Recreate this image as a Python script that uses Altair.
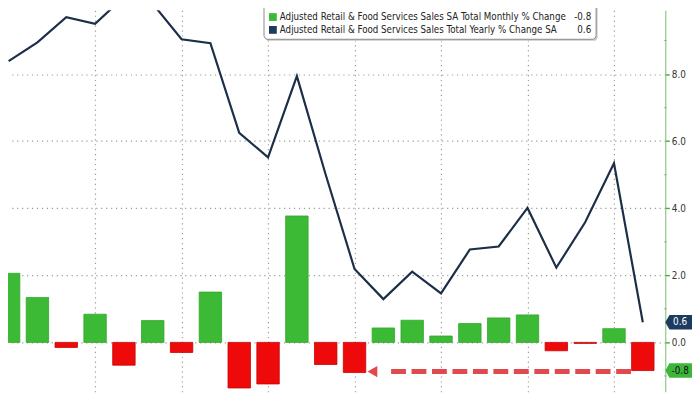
import altair as alt
import pandas as pd

# ---- data ----
month_index = list(range(23))
monthly = [2.06, 1.34, -0.15, 0.84, -0.68, 0.65, -0.30, 1.50, -1.36, -1.24, 3.77,
           -0.66, -0.90, 0.43, 0.66, 0.19, 0.56, 0.73, 0.82, -0.25, -0.03, 0.41, -0.84]
yearly = [8.39, 8.95, 9.70, 9.50, 10.3, 10.1, 9.04, 8.92, 6.25, 5.52, 7.94,
          5.0, 2.19, 1.29, 2.11, 1.46, 2.77, 2.86, 4.01, 2.23, 3.58, 5.34, 0.6]
grid_months = [3, 6, 9, 12, 15, 18, 21]
major_ticks = [0, 2, 4, 6, 8, 10]
minor_ticks = [-1, 1, 3, 5, 7, 9]
legend_labels = [
    "Adjusted Retail & Food Services Sales SA Total Monthly % Change",
    "Adjusted Retail & Food Services Sales Total Yearly % Change SA",
]
legend_values = [f"{monthly[-1]:.1f}", f"{yearly[-1]:.1f}"]
arrow_start = [21.59]
arrow_end = [13.23]
arrow_head = [12.62]
arrow_level = [-0.87]

GREEN = "#3cba35"
RED = "#ee0a0a"
NAVY = "#1c2e48"
TAGNAVY = "#1d3b60"
FONT = "DejaVu Sans Condensed, Liberation Sans, sans-serif"

W, H = 665, 386
xs = alt.Scale(domain=[0.1503, 22.609], nice=False, zero=False)
ys = alt.Scale(domain=[-1.473, 9.906], nice=False, zero=False)

df = pd.DataFrame({"i": month_index, "m": monthly, "y": yearly})
base = alt.Chart(df)

bars = base.mark_bar(size=22.7, clip=True, strokeWidth=0.8).encode(
    x=alt.X("i:Q", scale=xs, title=None,
            axis=alt.Axis(values=grid_months, labels=False, ticks=False, domain=False,
                          grid=True, gridColor="#9a9a9a", gridDash=[1.2, 3.8], gridWidth=1.2)),
    y=alt.Y("m:Q", scale=ys, title=None,
            axis=alt.Axis(orient="right", values=major_ticks, format=".1f",
                          labelFont=FONT, labelFontSize=10, labelColor="#333333", labelPadding=2,
                          labelOverlap=False,
                          domainColor="#74bd6e", domainWidth=1,
                          tickColor="#3fa83a", tickSize=4, tickWidth=1.4,
                          grid=True, gridColor="#9a9a9a", gridDash=[1.2, 3.8], gridWidth=1.2)),
    y2=alt.datum(0),
    color=alt.condition("datum.m >= 0", alt.value(GREEN), alt.value(RED)),
    stroke=alt.condition("datum.m >= 0", alt.value("#33a52d"), alt.value("#c80000")),
)

line = base.mark_line(color=NAVY, strokeWidth=2.2, clip=True).encode(
    x=alt.X("i:Q", scale=xs), y=alt.Y("y:Q", scale=ys)
)

minor_df = pd.DataFrame({"t": minor_ticks})
minor = alt.Chart(minor_df).mark_rule(color="#aaaaaa", strokeWidth=1).encode(
    x=alt.value(W - 1.5), x2=alt.value(W + 1.5), y=alt.Y("t:Q", scale=ys)
)

arrow_df = pd.DataFrame({"a": arrow_start, "b": arrow_end, "h": arrow_head, "v": arrow_level})
arrow = alt.Chart(arrow_df).mark_rule(color="#e04a4f", strokeWidth=5, strokeDash=[15, 5.7]).encode(
    x=alt.X("a:Q", scale=xs), x2="b:Q", y=alt.Y("v:Q", scale=ys)
)
head = alt.Chart(arrow_df).mark_point(shape="triangle-left", filled=True, size=130,
                                      color="#e04a4f", opacity=1).encode(
    x=alt.X("h:Q", scale=xs), y=alt.Y("v:Q", scale=ys)
)

tag_df = pd.DataFrame({
    "v": [yearly[-1], monthly[-1]],
    "label": [f"{yearly[-1]:.1f}", f"{monthly[-1]:.1f}"],
    "fill": [TAGNAVY, "#3db43a"],
    "tc": ["#ffffff", "#111111"],
})
tag_path = "M0,0L0.3,-0.525L2.2,-0.525L2.2,0.525L0.3,0.525Z"
tags = alt.Chart(tag_df).mark_point(shape=tag_path, filled=True, size=784, opacity=1,
                                    strokeWidth=0).encode(
    x=alt.value(W), y=alt.Y("v:Q", scale=ys), fill=alt.Fill("fill:N", scale=None)
)
tag_text = alt.Chart(tag_df).mark_text(font=FONT, fontSize=10, align="center",
                                       baseline="middle").encode(
    x=alt.value(W + 15), y=alt.Y("v:Q", scale=ys), text="label:N",
    color=alt.Color("tc:N", scale=None)
)

one = pd.DataFrame({"k": [0]})
shadow = alt.Chart(one).mark_rect(fill="#c8c8c8", cornerRadius=4).encode(
    x=alt.value(260), x2=alt.value(596.5), y=alt.value(-6), y2=alt.value(31)
)
box = alt.Chart(one).mark_rect(fill="white", stroke="#8a8a8a", strokeWidth=1, cornerRadius=4).encode(
    x=alt.value(259), x2=alt.value(595), y=alt.value(-6), y2=alt.value(29.4)
)
legend_layers = [shadow, box]
row_y = [6.9, 19.9]
row_col = [GREEN, "#1d3a5f"]
for k in range(2):
    rdf = pd.DataFrame({"t": [legend_labels[k]], "val": [legend_values[k]]})
    legend_layers.append(alt.Chart(rdf).mark_square(size=62, filled=True, opacity=1,
                                                     color=row_col[k]).encode(
        x=alt.value(268), y=alt.value(row_y[k])))
    legend_layers.append(alt.Chart(rdf).mark_text(font=FONT, fontSize=9.8, align="left",
                                                   baseline="middle", color="#222222").encode(
        x=alt.value(275), y=alt.value(row_y[k]), text="t:N"))
    legend_layers.append(alt.Chart(rdf).mark_text(font=FONT, fontSize=9.8, align="right",
                                                   baseline="middle", color="#222222").encode(
        x=alt.value(590), y=alt.value(row_y[k]), text="val:N"))

chart = alt.layer(bars, line, minor, arrow, head, tags, tag_text, *legend_layers).properties(
    width=W, height=H,
    padding={"left": 0, "top": 0, "right": 27, "bottom": 0},
    autosize=alt.AutoSizeParams(type="none"),
).configure_view(stroke=None)

chart.save("out.html", embed_options={"renderer": "svg", "actions": False})
